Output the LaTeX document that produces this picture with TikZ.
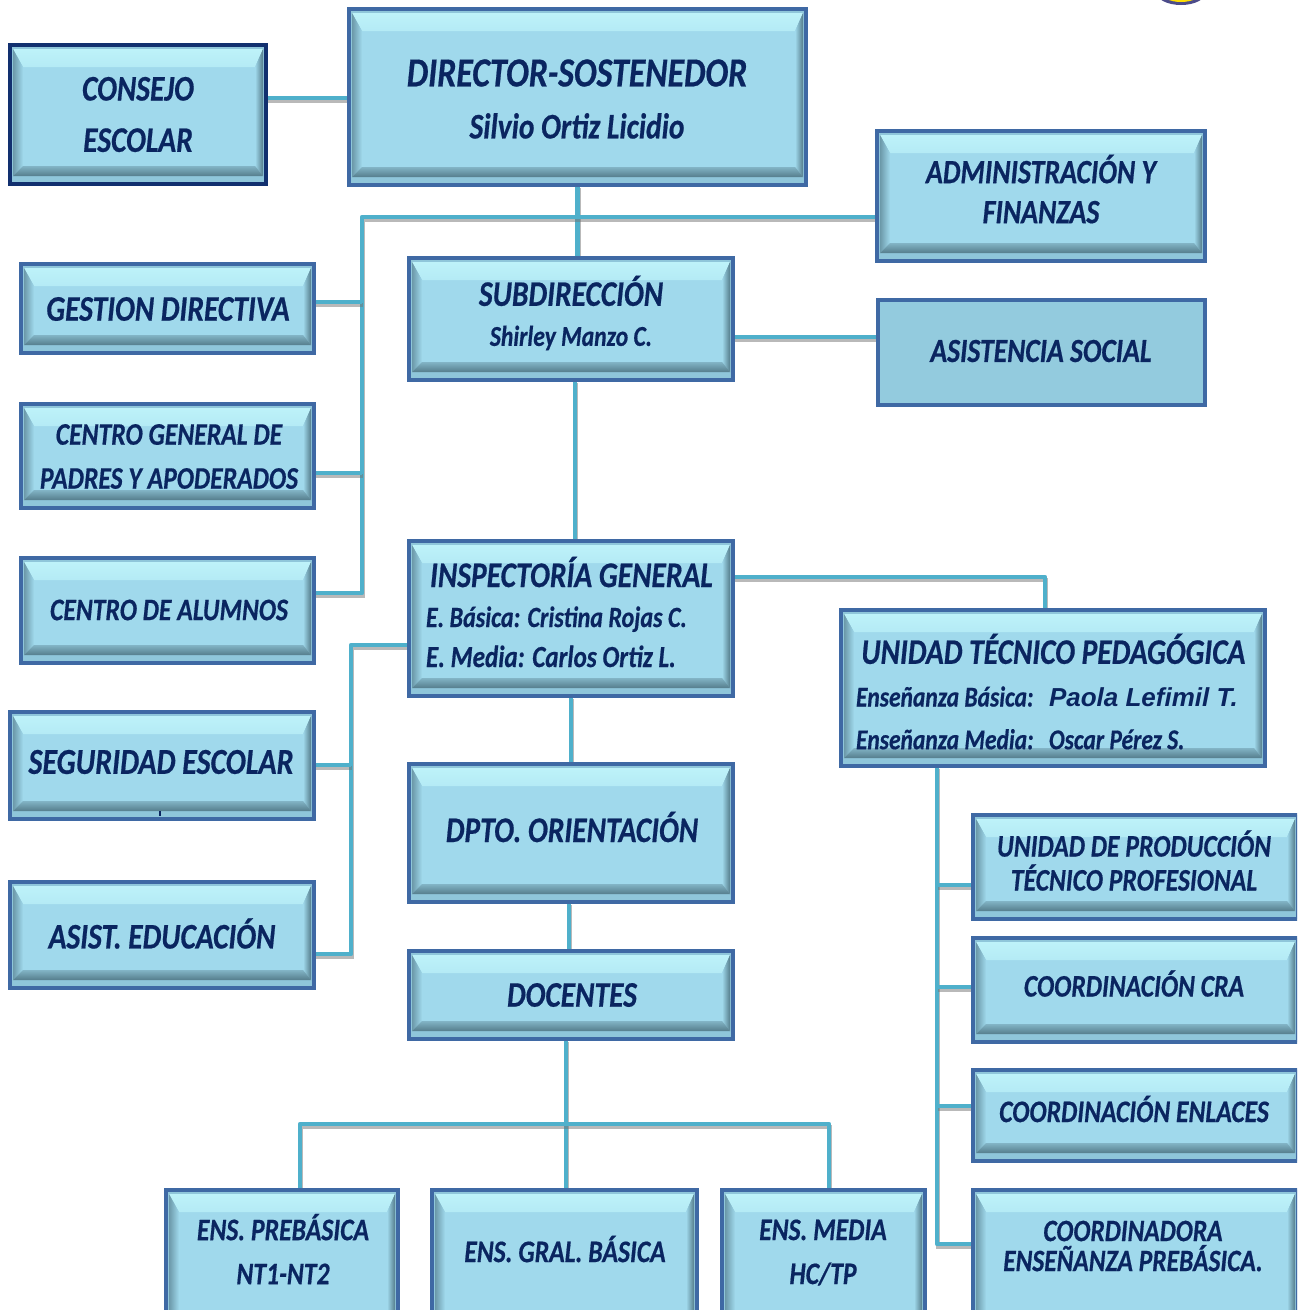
\documentclass[tikz,border=0pt]{standalone}
\usepackage{fontspec}
\setmainfont[FakeStretch=0.82,FakeBold=0.5]{Carlito}
\newfontfamily\paolafont{Liberation Sans}
\definecolor{ink}{HTML}{0A2560}
\definecolor{face}{HTML}{A0D9EC}
\definecolor{flat}{HTML}{93CBDE}
\definecolor{edgeA}{HTML}{3F69A4}
\definecolor{edgeB}{HTML}{12306F}
\definecolor{band}{HTML}{8FC6DA}
\definecolor{hi}{HTML}{BDF2F9}
\definecolor{lo}{HTML}{557D8C}
\definecolor{lineC}{HTML}{4FB0CB}
\pgfdeclarelayer{linesl}\pgfsetlayers{linesl,main}
\tikzset{
  x=0.75pt,y=-0.75pt,
  conn/.style={draw=lineC,line width=3.2pt,line join=round,
    preaction={draw=black!55,opacity=.5,line width=3pt,transform canvas={xshift=0.8pt,yshift=-2.6pt}}},
  boxn/.style={rectangle,outer sep=0pt,inner sep=0pt,line width=3pt,fill=band},
  txt/.style={text=ink,inner sep=0pt,outer sep=0pt,align=center}
}
\newcommand\sz[1]{\fontsize{#1}{\baselineskip}\selectfont}
% name, x1, y1, x2, y2, border colour: bevelled box
\newcommand\BX[6]{%
  \pgfmathsetmacro\cx{(#2+#4)/2}\pgfmathsetmacro\cy{(#3+#5)/2}%
  \pgfmathsetmacro\bw{(#4-#2-4)*.75}\pgfmathsetmacro\bh{(#5-#3-4)*.75}%
  \node[boxn,draw=#6,minimum width=\bw pt,minimum height=\bh pt] (#1) at (\cx,\cy) {};
  \pgfmathsetmacro\ax{#2+5}\pgfmathsetmacro\ay{#3+6}\pgfmathsetmacro\bx{#4-5}\pgfmathsetmacro\by{#5-10}%
  \pgfmathsetmacro\ix{#2+15}\pgfmathsetmacro\iy{#3+24}\pgfmathsetmacro\jx{#4-13}\pgfmathsetmacro\jy{#5-20}%
  \fill[face] (\ix,\iy) rectangle (\jx,\jy);
  \shade[top color=hi,bottom color=hi!70!face] (\ax,\ay) -- (\bx,\ay) -- (\jx,\iy) -- (\ix,\iy) -- cycle;
  \shade[left color=lo!70!face,right color=face] (\ax,\ay) -- (\ix,\iy) -- (\ix,\jy) -- (\ax,\by) -- cycle;
  \shade[left color=face,right color=lo] (\bx,\ay) -- (\jx,\iy) -- (\jx,\jy) -- (\bx,\by) -- cycle;
  \shade[top color=face!60!lo,bottom color=lo] (\ax,\by) -- (\ix,\jy) -- (\jx,\jy) -- (\bx,\by) -- cycle;
}
% name, cx, cy, size, leading, text
\newcommand\TX[6]{\node[txt,font=\fontsize{#4}{#5}\selectfont\bfseries\itshape] (#1) at (#2,#3) {#6};}
\begin{document}
\begin{tikzpicture}
\useasboundingbox (0,0) rectangle (1297,1310);
\clip (0,0) rectangle (1297,1310);
% gold seal cut by the top edge
\fill[black!65!blue,opacity=.7] (1181,-8) ellipse (25 and 13);
\fill[yellow!80!orange] (1181,-8) ellipse (20 and 10);
% boxes
\BX{cons}{8}{43}{268}{186}{edgeB}
\BX{dir}{347}{7}{808}{187}{edgeA}
\BX{admin}{875}{129}{1207}{263}{edgeA}
\BX{gest}{19}{262}{316}{355}{edgeA}
\BX{sub}{407}{256}{735}{382}{edgeA}
\node[boxn,draw=edgeA,fill=flat,minimum width=245.25pt,minimum height=78.75pt] (asis) at (1041.5,352.5) {};
\BX{padres}{19}{402}{316}{510}{edgeA}
\BX{alum}{19}{556}{316}{665}{edgeA}
\BX{insp}{407}{539}{735}{698}{edgeA}
\BX{utp}{839}{608}{1267}{768}{edgeA}
\BX{segu}{8}{710}{316}{821}{edgeA}
\BX{asistedu}{8}{880}{316}{990}{edgeA}
\BX{dpto}{407}{762}{735}{904}{edgeA}
\BX{doc}{407}{949}{735}{1041}{edgeA}
\BX{prod}{971}{813}{1300}{921}{edgeA}
\BX{cra}{971}{936}{1300}{1044}{edgeA}
\BX{enl}{971}{1068}{1300}{1163}{edgeA}
\BX{coordp}{971}{1188}{1300}{1335}{edgeA}
\BX{prebas}{164}{1188}{400}{1335}{edgeA}
\BX{gral}{430}{1188}{699}{1335}{edgeA}
\BX{media}{720}{1188}{927}{1335}{edgeA}
\draw[ink,line width=1pt] (160,811) -- (160,816);
% connectors go under the boxes
\begin{pgfonlayer}{linesl}
\coordinate (jA) at (362,217);
\coordinate (jB) at (351,645);
\coordinate (jC) at (1045,577);
\coordinate (jD) at (300,1124);
\coordinate (jE) at (829,1124);
\coordinate (jF) at (937,1244);
\draw[conn] (cons.east |- 0,98) -- (dir.west |- 0,98);
\draw[conn] (dir.south) -- (sub.north -| dir.south);
\draw[conn] (admin.west |- jA) -- (jA) -- (jA |- 0,593) -- (alum.east |- 0,593);
\draw[conn] (gest.east |- 0,302) -- (jA |- 0,302);
\draw[conn] (padres.east |- 0,473) -- (jA |- 0,473);
\draw[conn] (sub.east |- 0,337) -- (asis.west |- 0,337);
\draw[conn] (sub.south -| 575,0) -- (insp.north -| 575,0);
\draw[conn] (insp.east |- jC) -- (jC) -- (utp.north -| jC);
\draw[conn] (insp.west |- jB) -- (jB) -- (jB |- 0,954) -- (asistedu.east |- 0,954);
\draw[conn] (segu.east |- 0,765) -- (jB |- 0,765);
\draw[conn] (insp.south -| 571,0) -- (dpto.north -| 571,0);
\draw[conn] (dpto.south -| 569,0) -- (doc.north -| 569,0);
\draw[conn] (doc.south -| 566,0) -- (gral.north -| 566,0);
\draw[conn] (prebas.north -| jD) -- (jD) -- (jE) -- (media.north -| jE);
\draw[conn] (utp.south -| jF) -- (jF) -- (coordp.west |- jF);
\draw[conn] (jF |- 0,885) -- (prod.west |- 0,885);
\draw[conn] (jF |- 0,987) -- (cra.west |- 0,987);
\draw[conn] (jF |- 0,1106) -- (enl.west |- 0,1106);
\end{pgfonlayer}
% texts
\TX{tcons}{138}{114.5}{27}{38.5}{CONSEJO\\ESCOLAR}
\TX{tdir}{577}{99}{31}{39}{DIRECTOR-SOSTENEDOR\\\sz{27}Silvio Ortiz Licidio}
\TX{tadmin}{1041}{189}{25.5}{30}{ADMINISTRACIÓN Y\\FINANZAS}
\TX{tgest}{168}{309}{27}{30}{GESTION DIRECTIVA}
\TX{tsub}{571}{313}{27}{30}{SUBDIRECCIÓN\\\sz{21.6}Shirley Manzo C.}
\TX{tasis}{1041}{351}{25.3}{30}{ASISTENCIA SOCIAL}
\TX{tpad}{169}{456.5}{23.5}{33}{CENTRO GENERAL DE\\PADRES Y APODERADOS}
\TX{talum}{169}{610}{23.5}{30}{CENTRO DE ALUMNOS}
\node[txt,anchor=west,align=left,font=\fontsize{22}{30}\selectfont\bfseries\itshape] (tinsp) at (426,612) {\hspace*{3pt}\sz{27}INSPECTORÍA GENERAL\\E. Básica: Cristina Rojas C.\\\sz{23}E. Media: Carlos Ortiz L.};
\node[txt,anchor=west,align=left,font=\fontsize{21.5}{32}\selectfont\bfseries\itshape] (tutp) at (856,691.5) {\hspace*{4pt}\sz{27}UNIDAD TÉCNICO PEDAGÓGICA\\\makebox[144.75pt][l]{Enseñanza Básica:}{\paolafont\sz{19.5}Paola Lefimil T.}\\\makebox[144.75pt][l]{Enseñanza Media:}Oscar Pérez S.};
\TX{tsegu}{161}{762}{27.4}{30}{SEGURIDAD ESCOLAR}
\TX{tased}{162}{933.5}{27}{30}{ASIST. EDUCACIÓN}
\TX{tdpto}{572}{827}{27}{32}{DPTO. ORIENTACIÓN}
\TX{tdoc}{572}{995}{27}{30}{DOCENTES}
\TX{tprod}{1134}{860.5}{23.5}{25.5}{UNIDAD DE PRODUCCIÓN\\TÉCNICO PROFESIONAL}
\TX{tcra}{1134}{983.5}{23.5}{30}{COORDINACIÓN CRA}
\TX{tenl}{1134}{1109}{23.5}{30}{COORDINACIÓN ENLACES}
\TX{tcoo}{1133}{1246}{23.3}{22.5}{COORDINADORA\\ENSEÑANZA PREBÁSICA.}
\TX{tpre}{283}{1249}{23.5}{33}{ENS. PREBÁSICA\\NT1-NT2}
\TX{tgra}{565}{1249}{23.5}{30}{ENS. GRAL. BÁSICA}
\TX{tmed}{823}{1252.5}{23.5}{33}{ENS. MEDIA\\HC/TP}
\end{tikzpicture}
\end{document}
